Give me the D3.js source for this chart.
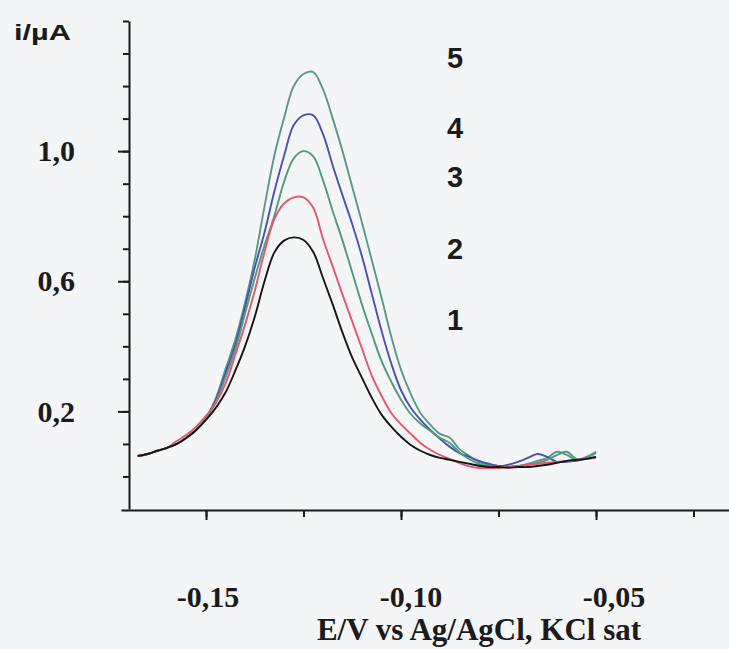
<!DOCTYPE html>
<html>
<head>
<meta charset="utf-8">
<script src="https://cdn.jsdelivr.net/npm/d3@7"></script>
<style>
  body { margin: 0; background: #f4f5f7; }
  svg { display: block; }
</style>
</head>
<body>
<div id="chart"></div>
<script>
//potential grid (V vs Ag/AgCl)
var potentialV = [-0.1675, -0.1650, -0.1625, -0.1600, -0.1575, -0.1550, -0.1525, -0.1500,
  -0.1475, -0.1450, -0.1425, -0.1400, -0.1375, -0.1350, -0.1325, -0.1300, -0.1275, -0.1250,
  -0.1225, -0.1200, -0.1175, -0.1150, -0.1125, -0.1100, -0.1075, -0.1050, -0.1025, -0.1000,
  -0.0975, -0.0950, -0.0925, -0.0900, -0.0875, -0.0850, -0.0825, -0.0800, -0.0775, -0.0750,
  -0.0725, -0.0700, -0.0675, -0.0650, -0.0625, -0.0600, -0.0575, -0.0550, -0.0525, -0.0500];

//currents (uA) for the five voltammograms
var current1 = [0.063, 0.069, 0.079, 0.088, 0.100, 0.119, 0.143, 0.174, 0.211, 0.258, 0.325, 0.400,
  0.491, 0.600, 0.688, 0.725, 0.735, 0.727, 0.690, 0.610, 0.528, 0.442, 0.365, 0.303, 0.242, 0.190,
  0.153, 0.122, 0.097, 0.079, 0.066, 0.057, 0.051, 0.045, 0.039, 0.033, 0.029, 0.029, 0.027, 0.029,
  0.029, 0.032, 0.036, 0.042, 0.048, 0.051, 0.054, 0.060];
var current2 = [0.063, 0.069, 0.079, 0.088, 0.109, 0.128, 0.153, 0.186, 0.226, 0.285, 0.374, 0.466,
  0.571, 0.690, 0.790, 0.839, 0.858, 0.858, 0.826, 0.730, 0.645, 0.559, 0.476, 0.393, 0.310, 0.248,
  0.195, 0.160, 0.131, 0.103, 0.082, 0.066, 0.054, 0.041, 0.031, 0.026, 0.026, 0.026, 0.029, 0.032,
  0.036, 0.039, 0.042, 0.045, 0.048, 0.051, 0.054, 0.057];
var current3 = [0.063, 0.069, 0.079, 0.088, 0.100, 0.119, 0.143, 0.180, 0.228, 0.305, 0.390, 0.500,
  0.610, 0.710, 0.800, 0.905, 0.978, 1.000, 0.984, 0.910, 0.815, 0.725, 0.627, 0.528, 0.439, 0.355,
  0.291, 0.236, 0.192, 0.162, 0.140, 0.119, 0.103, 0.074, 0.053, 0.039, 0.032, 0.029, 0.029, 0.032,
  0.036, 0.042, 0.051, 0.066, 0.076, 0.054, 0.057, 0.072];
var current4 = [0.063, 0.069, 0.079, 0.088, 0.100, 0.119, 0.143, 0.180, 0.234, 0.318, 0.405, 0.520,
  0.642, 0.750, 0.875, 0.985, 1.080, 1.110, 1.110, 1.052, 0.955, 0.864, 0.775, 0.676, 0.562, 0.448,
  0.347, 0.265, 0.211, 0.174, 0.143, 0.116, 0.091, 0.072, 0.060, 0.048, 0.039, 0.032, 0.036, 0.045,
  0.057, 0.069, 0.060, 0.045, 0.045, 0.048, 0.054, 0.060];
var current5 = [0.063, 0.069, 0.079, 0.088, 0.100, 0.119, 0.143, 0.180, 0.240, 0.330, 0.420, 0.534,
  0.667, 0.830, 0.985, 1.101, 1.200, 1.237, 1.243, 1.190, 1.100, 1.000, 0.890, 0.780, 0.665, 0.550,
  0.430, 0.328, 0.254, 0.195, 0.159, 0.131, 0.119, 0.084, 0.063, 0.045, 0.036, 0.032, 0.029, 0.032,
  0.039, 0.048, 0.057, 0.076, 0.066, 0.051, 0.060, 0.076];

var curveNames = ["1", "2", "3", "4", "5"];

//ticks
var xTicks = [-0.150, -0.125, -0.100, -0.075, -0.050, -0.025];
var xTickLabels = [-0.15, -0.10, -0.05];
var yTicks = [0.0, 0.1, 0.2, 0.3, 0.4, 0.5, 0.6, 0.7, 0.8, 0.9, 1.0, 1.1, 1.2, 1.3, 1.4];
var yTickLabels = [0.2, 0.6, 1.0];

/*----------------------
SETUP
----------------------*/
var width = 729, height = 649;
var serif = "'Liberation Serif', 'Times New Roman', serif";
var sans = "'Liberation Sans', Arial, sans-serif";
var ink = "#1b1b1b";

var curves = [current1, current2, current3, current4, current5];
var colors = ["#161616", "#e5566f", "#4f9c79", "#4b52ad", "#5b9889"];

var svg = d3.select("#chart").append("svg")
  .attr("width", width)
  .attr("height", height);

svg.append("rect")
  .attr("width", width)
  .attr("height", height)
  .attr("fill", "#f4f5f7");

var x = d3.scaleLinear().domain([-0.1718, -0.0159]).range([121, 729]);
var y = d3.scaleLinear().domain([-0.1, 1.4]).range([509, 21]);
// tick labels of the original sit on a slightly wider spacing than the ticks
var labelX = d3.scaleLinear().domain([-0.15, -0.05]).range([208, 614]);

var locale = d3.formatLocale({decimal: ",", thousands: ".", grouping: [3], currency: ["", ""], minus: "-"});
var fmtX = locale.format(".2f");
var fmtY = locale.format(".1f");

/*----------------------
AXES
----------------------*/
var yMinor = svg.append("g")
  .attr("transform", "translate(129,0)")
  .call(d3.axisLeft(y).tickValues(yTicks).tickSize(6).tickSizeOuter(0).tickFormat(""));

var yMajor = svg.append("g")
  .attr("transform", "translate(129,0)")
  .call(d3.axisLeft(y).tickValues(yTickLabels).tickSize(11).tickPadding(43).tickFormat(fmtY));
yMajor.select(".domain").remove();

var xMinor = svg.append("g")
  .attr("transform", "translate(0,510)")
  .call(d3.axisBottom(x).tickValues(xTicks).tickSize(7).tickSizeOuter(0).tickFormat(""));

var xMajor = svg.append("g")
  .attr("transform", "translate(0,510)")
  .call(d3.axisBottom(x).tickValues(xTickLabels).tickSize(10).tickFormat(""));
xMajor.select(".domain").remove();

svg.selectAll(".domain, .tick line")
  .attr("stroke", ink)
  .attr("stroke-width", 2);

yMajor.selectAll("text")
  .attr("font-family", serif)
  .attr("font-weight", "bold")
  .attr("font-size", 30)
  .attr("fill", ink);

svg.append("g")
  .selectAll("text")
  .data(xTickLabels)
  .enter()
  .append("text")
    .attr("x", d => labelX(d))
    .attr("y", 607)
    .attr("text-anchor", "middle")
    .attr("font-family", serif)
    .attr("font-weight", "bold")
    .attr("font-size", 30)
    .attr("fill", ink)
    .text(d => fmtX(d));

svg.append("text")
  .attr("x", 479)
  .attr("y", 640)
  .attr("text-anchor", "middle")
  .attr("font-family", serif)
  .attr("font-weight", "bold")
  .attr("font-size", 31)
  .attr("fill", ink)
  .text("E/V vs Ag/AgCl, KCl sat");

svg.append("text")
  .attr("x", 14)
  .attr("y", 40)
  .attr("font-family", sans)
  .attr("font-weight", "bold")
  .attr("font-size", 22)
  .attr("textLength", 57)
  .attr("lengthAdjust", "spacingAndGlyphs")
  .attr("fill", ink)
  .text("i/\u00b5A");

/*----------------------
CURVES
----------------------*/
var line = d3.line()
  .x((d, i) => x(potentialV[i]))
  .y(d => y(d))
  .curve(d3.curveCatmullRom.alpha(0.5));

// draw highest first so the black trace ends on top
svg.append("g")
  .selectAll("path")
  .data(d3.range(curves.length).reverse())
  .enter()
  .append("path")
    .attr("d", k => line(curves[k]))
    .attr("fill", "none")
    .attr("stroke", k => colors[k])
    .attr("stroke-width", 1.9)
    .attr("stroke-linejoin", "round");

// curve numbers, stacked at the right of the peaks
var labelBaselines = [330, 259, 187, 138, 68];
svg.append("g")
  .selectAll("text")
  .data(curveNames)
  .enter()
  .append("text")
    .attr("x", 455)
    .attr("y", (d, i) => labelBaselines[i])
    .attr("text-anchor", "middle")
    .attr("font-family", sans)
    .attr("font-weight", "bold")
    .attr("font-size", 29)
    .attr("fill", ink)
    .text(d => d);
</script>
</body>
</html>
